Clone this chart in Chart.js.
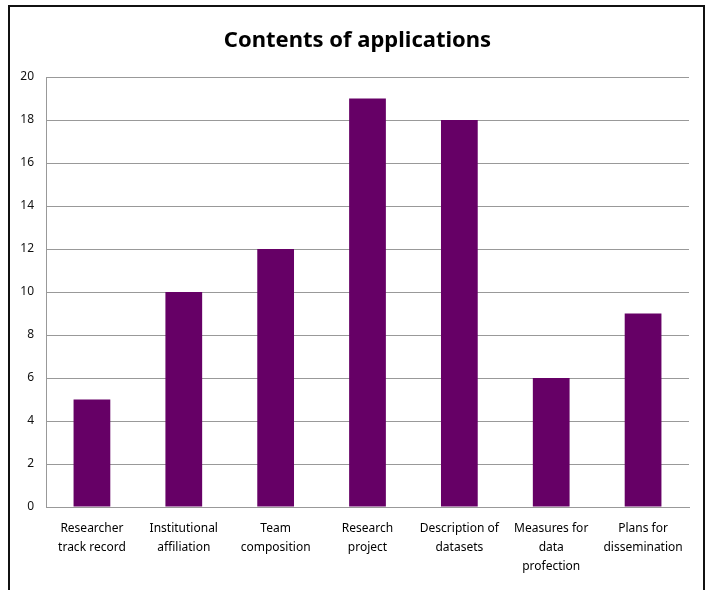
<!DOCTYPE html>
<html>
<head>
<meta charset="utf-8">
<script src="https://cdn.jsdelivr.net/npm/chart.js@4"></script>
<style>
  html, body { margin: 0; padding: 0; background: #fff; overflow: hidden; }
  #frame { position: absolute; left: 8px; top: 5px; width: 697px; height: 600px; border: 2px solid #111; box-sizing: border-box; }
  #chart { position: absolute; left: 0; top: 0; }
</style>
</head>
<body>
<div id="frame"></div>
<canvas id="chart" width="715" height="590"></canvas>
<script>
// chart data
const categories = [
  ['Researcher', 'track record'],
  ['Institutional', 'affiliation'],
  ['Team', 'composition'],
  ['Research', 'project'],
  ['Description of', 'datasets'],
  ['Measures for', 'data', 'profection'],
  ['Plans for', 'dissemination']
];
const counts = [5, 10, 12, 19, 18, 6, 9];
const yTicks = [0, 2, 4, 6, 8, 10, 12, 14, 16, 18, 20];

const font = "'Noto Sans', 'DejaVu Sans', sans-serif";

new Chart(document.getElementById('chart').getContext('2d'), {
  type: 'bar',
  data: {
    labels: categories,
    datasets: [{
      data: counts,
      backgroundColor: '#660066',
      barPercentage: 0.4,
      categoryPercentage: 1
    }]
  },
  options: {
    responsive: false,
    animation: false,
    layout: { padding: 0 },
    plugins: {
      legend: { display: false },
      tooltip: { enabled: false },
      title: {
        display: true,
        text: 'Contents of applications',
        color: '#000',
        font: { family: font, size: 22, weight: 'bold', lineHeight: 1.2 },
        padding: { top: 28, bottom: 22.6 }
      }
    },
    scales: {
      x: {
        grid: { display: false, drawTicks: false },
        border: { display: true, color: '#999' },
        ticks: {
          color: '#000',
          padding: 12,
          maxRotation: 0,
          autoSkip: false,
          font: { family: font, size: 12, lineHeight: 1.58 }
        },
        afterFit: s => { s.height = 83; }
      },
      y: {
        min: 0,
        max: 20,
        afterBuildTicks: s => { s.ticks = yTicks.map(v => ({ value: v })); },
        grid: { color: '#999', drawTicks: false },
        border: { display: true, color: '#999' },
        ticks: {
          color: '#111',
          padding: 12,
          font: { family: font, size: 12 }
        },
        afterFit: s => { s.width = 46; }
      },
      // empty right-hand axis, only reserves the right margin
      yRight: {
        position: 'right',
        min: 0,
        max: 20,
        grid: { display: false, drawTicks: false },
        border: { display: false },
        ticks: { display: false },
        afterFit: s => { s.width = 26; }
      }
    }
  }
});
</script>
</body>
</html>
